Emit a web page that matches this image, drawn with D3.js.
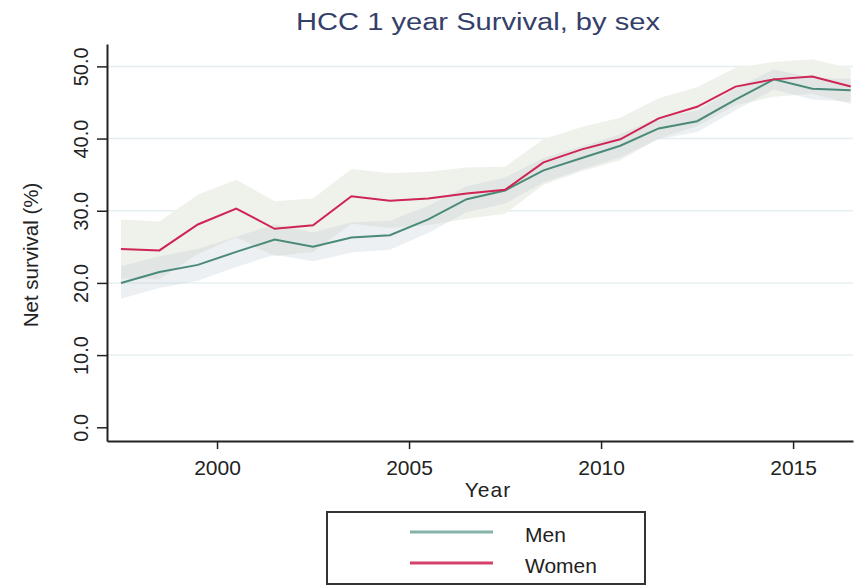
<!DOCTYPE html>
<html>
<head>
<meta charset="utf-8">
<script src="https://cdn.jsdelivr.net/npm/d3@7"></script>
<style>
  body { margin: 0; background: #fff; }
  svg { font-family: "Liberation Sans", Arial, sans-serif; }
</style>
</head>
<body>
<svg id="chart" width="855" height="587"></svg>
<script>
// mid-year points
const years = [1997.5, 1998.5, 1999.5, 2000.5, 2001.5, 2002.5, 2003.5, 2004.5, 2005.5, 2006.5,
               2007.5, 2008.5, 2009.5, 2010.5, 2011.5, 2012.5, 2013.5, 2014.5, 2015.5, 2016.5];

const menSurv = [20.0, 21.5, 22.5, 24.3, 26.0, 25.0, 26.3, 26.6, 28.8, 31.6,
                 32.8, 35.6, 37.3, 39.0, 41.4, 42.4, 45.4, 48.2, 46.9, 46.7];
const menLo   = [17.8, 19.3, 20.3, 22.2, 23.9, 23.0, 24.2, 24.6, 26.9, 29.8,
                 31.0, 33.9, 35.7, 37.4, 39.9, 40.9, 43.9, 46.8, 45.4, 45.1];
const menHi   = [22.3, 23.7, 24.7, 26.4, 28.1, 27.0, 28.4, 28.6, 30.7, 33.4,
                 34.6, 37.3, 38.9, 40.6, 42.9, 43.9, 46.9, 49.6, 48.4, 48.3];

const womenSurv = [24.7, 24.5, 28.1, 30.3, 27.5, 28.0, 32.0, 31.4, 31.7, 32.4,
                   32.9, 36.7, 38.5, 39.9, 42.8, 44.4, 47.2, 48.2, 48.6, 47.2];
const womenLo   = [20.6, 20.5, 24.0, 26.3, 23.7, 24.3, 28.2, 27.6, 28.0, 28.9,
                   29.6, 33.6, 35.5, 37.0, 40.0, 41.7, 44.6, 45.8, 46.2, 44.8];
const womenHi   = [28.8, 28.5, 32.2, 34.3, 31.3, 31.7, 35.8, 35.2, 35.4, 36.0,
                   36.1, 39.9, 41.6, 42.9, 45.6, 47.1, 49.8, 50.6, 51.0, 49.7];

const yTicks = [0, 10, 20, 30, 40, 50];
const xTicks = [2000, 2005, 2010, 2015];
const seriesNames = ["Men", "Women"];

const svg = d3.select("#chart");

const x = d3.scaleLinear().domain([1997.135, 2016.56]).range([107, 853]);
const y = d3.scaleLinear().domain([-1.9, 53.1]).range([441, 44]);

const men = years.map((yr, i) => ({ yr, v: menSurv[i], lo: menLo[i], hi: menHi[i] }));
const women = years.map((yr, i) => ({ yr, v: womenSurv[i], lo: womenLo[i], hi: womenHi[i] }));

// gridlines
svg.append("g")
    .selectAll("line")
    .data(yTicks.filter(d => d > 0))
    .enter().append("line")
    .attr("x1", 108).attr("x2", 853)
    .attr("y1", d => y(d)).attr("y2", d => y(d))
    .attr("stroke", "#e4eff1")
    .attr("stroke-width", 1.5);

const area = d3.area()
    .x(d => x(d.yr))
    .y0(d => y(d.lo))
    .y1(d => y(d.hi));

svg.append("path")
    .datum(women)
    .attr("d", area)
    .attr("fill", "#eff1eb");

svg.append("path")
    .datum(men)
    .attr("d", area)
    .attr("fill", "#c4cfda")
    .attr("opacity", 0.32);

const line = d3.line()
    .x(d => x(d.yr))
    .y(d => y(d.v));

svg.append("path")
    .datum(men)
    .attr("d", line)
    .attr("fill", "none")
    .attr("stroke", "#4b8a79")
    .attr("stroke-width", 2);

svg.append("path")
    .datum(women)
    .attr("d", line)
    .attr("fill", "none")
    .attr("stroke", "#cf2554")
    .attr("stroke-width", 2);

// y axis
const yAxis = svg.append("g")
    .attr("transform", "translate(107,0)")
    .call(d3.axisLeft(y).tickValues(yTicks).tickFormat(d3.format(".1f")).tickSize(10).tickSizeOuter(0));
yAxis.select(".domain").attr("stroke", "#222").attr("stroke-width", 2);
yAxis.selectAll(".tick line").attr("stroke", "#222").attr("stroke-width", 1.5);
yAxis.selectAll(".tick text")
    .attr("transform", "rotate(-90)")
    .attr("x", 0)
    .attr("y", -19)
    .attr("dy", 0)
    .style("text-anchor", "middle")
    .style("font-size", "20px")
    .attr("fill", "#222");

// x axis
const xAxis = svg.append("g")
    .attr("transform", "translate(0,441)")
    .call(d3.axisBottom(x).tickValues(xTicks).tickFormat(d => d).tickSize(8).tickSizeOuter(0));
xAxis.select(".domain").attr("stroke", "#222").attr("stroke-width", 2);
xAxis.selectAll(".tick line").attr("stroke", "#222").attr("stroke-width", 1.5);
xAxis.selectAll(".tick text")
    .attr("y", 34)
    .attr("dy", 0)
    .style("font-size", "21px")
    .attr("fill", "#222");

// title and axis labels
svg.append("text")
    .attr("x", 296)
    .attr("y", 30)
    .attr("textLength", 364)
    .attr("lengthAdjust", "spacingAndGlyphs")
    .style("font-size", "23px")
    .attr("fill", "#34406a")
    .text("HCC 1 year Survival, by sex");

svg.append("text")
    .attr("x", 488)
    .attr("y", 497)
    .style("text-anchor", "middle")
    .style("font-size", "21px")
    .style("letter-spacing", "1px")
    .attr("fill", "#222")
    .text("Year");

svg.append("text")
    .attr("transform", "translate(38,255) rotate(-90)")
    .style("text-anchor", "middle")
    .style("font-size", "20.5px")
    .attr("fill", "#222")
    .text("Net survival (%)");

// legend
const legend = svg.append("g");
legend.append("rect")
    .attr("x", 327).attr("y", 512)
    .attr("width", 318).attr("height", 72)
    .attr("fill", "#fff")
    .attr("stroke", "#333")
    .attr("stroke-width", 2);

const legendColors = ["#86b2a7", "#d4426b"];
seriesNames.forEach((name, i) => {
    const ly = 532 + i * 31;
    legend.append("line")
        .attr("x1", 410).attr("x2", 493)
        .attr("y1", ly).attr("y2", ly)
        .attr("stroke", legendColors[i])
        .attr("stroke-width", 3);
    legend.append("text")
        .attr("x", 525)
        .attr("y", ly + 10)
        .style("font-size", "21px")
        .attr("fill", "#222")
        .text(name);
});
</script>
</body>
</html>
